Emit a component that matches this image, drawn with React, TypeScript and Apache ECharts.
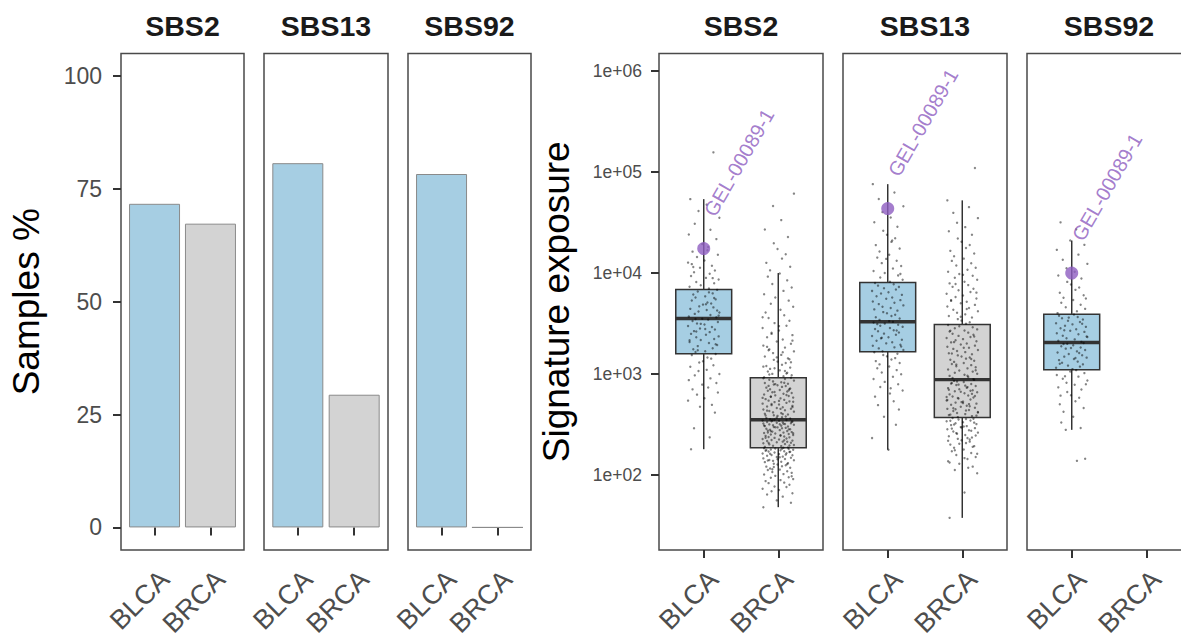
import React, { useEffect, useRef } from "react";
import * as echarts from "echarts";

// ---------- data ----------
const SIGNATURES = ["SBS2", "SBS13", "SBS92"];
const CANCER_TYPES = ["BLCA", "BRCA"];

// left: % of samples with the signature
const SAMPLES_PCT_BLCA = [71.7, 80.7, 78.3];
const SAMPLES_PCT_BRCA = [67.3, 29.4, 0];
const PCT_TICKS = [0, 25, 50, 75, 100];

// right: exposure box stats [lower whisker, Q1, median, Q3, upper whisker]
const BOX_SBS2_BLCA = [180, 1590, 3550, 6870, 54000];
const BOX_SBS2_BRCA = [48, 186, 353, 920, 10000];
const BOX_SBS13_BLCA = [178, 1660, 3300, 8070, 76000];
const BOX_SBS13_BRCA = [37.6, 370, 880, 3100, 52500];
const BOX_SBS92_BLCA = [280, 1100, 2050, 3900, 21000];
const EXPOSURE_TICKS = [100, 1000, 10000, 100000, 1000000];

const HIGHLIGHT_SAMPLE = "GEL-00089-1";
const HIGHLIGHT_EXPOSURE = [17500, 43500, 10000];

// individual sample exposures (jittered points)
const POINTS_SBS2_BLCA = [
  157000, 54000, 47600, 41200, 35300, 30800, 26900, 24100, 21700, 19400, 18100, 16300, 15200, 14400, 13300,
  12700, 11800, 11300, 10600, 10200, 9850, 9370, 8960, 8640, 8170, 7930, 7580, 7310, 7020, 6820, 6570, 6290,
  6130, 5880, 5720, 5490, 5340, 5120, 4990, 4870, 4680, 4570, 4420, 4310, 4170, 4070, 3940, 3850, 3720, 3640,
  3530, 3460, 3350, 3280, 3170, 3100, 2990, 2920, 2820, 2760, 2660, 2600, 2500, 2450, 2360, 2310, 2220, 2170,
  2080, 2030, 1940, 1890, 1800, 1760, 1680, 1650, 1580, 1540, 1460, 1420, 1340, 1300, 1220, 1180, 1100, 1070,
  1000, 970, 905, 870, 815, 785, 735, 705, 655, 625, 575, 545, 495, 475, 415, 290, 236, 180, 4910, 3790,
  2640, 5660, 3140, 2160, 6440, 4260, 1720, 8910, 11480, 2790, 3510, 1970, 12260, 16840,
];
const POINTS_SBS2_BRCA = [
  48, 53, 56, 61, 64, 66, 69, 71, 73, 76, 77, 80, 83, 84, 87, 89, 91, 94, 95, 98, 101, 102, 105, 107, 109,
  112, 113, 116, 118, 121, 122, 125, 127, 129, 131, 134, 135, 138, 140, 141, 144, 146, 148, 151, 152, 155,
  157, 158, 161, 163, 164, 167, 169, 171, 172, 174, 176, 178, 179, 181, 183, 184, 186, 97, 114, 128, 139,
  150, 162, 170, 177, 182, 159, 143, 120,
  187, 190, 193, 195, 198, 201, 203, 206, 209, 211, 214, 217, 219, 222, 225, 227, 230, 233, 236, 238, 241,
  244, 247, 249, 252, 255, 258, 261, 263, 266, 269, 272, 275, 278, 281, 284, 287, 290, 293, 296, 299, 302,
  305, 308, 311, 314, 317, 320, 323, 326, 329, 332, 335, 338, 341, 344, 347, 350, 352, 196, 208, 221, 234,
  246, 259, 271, 283, 297, 309, 322, 336, 348, 213, 264, 318,
  356, 362, 367, 373, 379, 385, 391, 397, 404, 410, 417, 424, 431, 438, 445, 453, 460, 468, 476, 484, 492,
  500, 509, 518, 527, 536, 545, 555, 564, 574, 584, 594, 605, 615, 626, 637, 648, 660, 671, 683, 695, 708,
  720, 733, 746, 760, 773, 787, 801, 816, 830, 845, 861, 876, 892, 908, 918, 370, 401, 434, 470, 505, 542,
  580, 621, 665, 712, 763, 818, 388, 452, 531, 599, 689, 794,
  930, 951, 974, 1003, 1028, 1061, 1087, 1124, 1158, 1203, 1236, 1284, 1327, 1382, 1428, 1493, 1547, 1612,
  1676, 1754, 1827, 1912, 1996, 2104, 2197, 2313, 2428, 2562, 2697, 2853, 3008, 3194, 3376, 3592, 3818, 4073,
  4338, 4642, 4968, 5334, 5728, 6173, 6658, 7204, 7796, 8472, 9218, 9897, 10640, 11530, 12620, 13910, 15380,
  17340, 19720, 22810, 27040, 33480, 46100, 61200, 991, 1072, 1183, 1308, 1462, 1643, 1858, 2141, 2497, 2983,
  3652, 1012, 1139, 1401, 1718,
];
const POINTS_SBS13_BLCA = [
  178, 232, 315, 378, 446, 492, 538, 597, 641, 688, 745, 793, 836, 894, 938, 996, 1037, 1094, 1142, 1189,
  1246, 1287, 1343, 1392, 1438, 1497, 1542, 1589, 1646, 724,
  1683, 1728, 1794, 1837, 1906, 1948, 2013, 2068, 2134, 2187, 2256, 2318, 2384, 2447, 2513, 2579, 2652, 2716,
  2793, 2858, 2934, 3008, 3082, 3157, 3234, 3288, 1872, 2291, 2704, 3121,
  3342, 3437, 3546, 3648, 3762, 3868, 3994, 4107, 4243, 4368, 4502, 4638, 4783, 4927, 5084, 5226, 5392, 5558,
  5734, 5897, 6083, 6268, 6462, 6657, 6864, 7068, 7293, 7506, 7742, 7984,
  8210, 8590, 9030, 9480, 10030, 10470, 11120, 11760, 12540, 13260, 14230, 15170, 16340, 17480, 18920, 20370,
  22140, 23960, 26230, 28760, 31840, 35460, 40120, 45870, 54210, 62870, 76000, 9810, 13820, 21030,
];
const POINTS_SBS13_BRCA = [
  37.6, 67, 104, 112, 121, 129, 137, 144, 151, 158, 165, 172, 179, 186, 193, 200, 207, 214, 221, 228, 235, 242,
  249, 256, 263, 270, 277, 284, 291, 298, 305, 312, 319, 326, 333, 340, 347, 354, 361, 367, 118, 133, 147, 162,
  176, 190, 204, 218, 232, 246, 260, 274, 288, 302, 316, 330, 344, 358, 225, 295,
  374, 383, 392, 401, 411, 421, 431, 441, 452, 463, 474, 485, 497, 509, 521, 533, 546, 559, 572, 586, 600, 614,
  629, 644, 659, 675, 691, 708, 725, 742, 760, 778, 797, 816, 835, 855, 875, 396, 436, 480, 527, 579, 636, 698,
  767, 842, 416, 458, 503, 553, 607, 667, 732, 804, 387, 447, 515, 593, 683, 785,
  890, 912, 935, 958, 982, 1006, 1031, 1057, 1083, 1110, 1138, 1166, 1195, 1225, 1256, 1287, 1319, 1352, 1386,
  1420, 1456, 1492, 1530, 1568, 1607, 1647, 1688, 1731, 1774, 1818, 1864, 1910, 1958, 2007, 2057, 2109, 2161,
  2215, 2271, 2328, 2386, 2445, 2506, 2569, 2633, 2699, 2767, 2836, 2907, 2979, 3054, 960, 1090, 1240, 1410,
  1600, 1820, 2070, 2350, 2680,
  3150, 3260, 3380, 3500, 3630, 3760, 3900, 4040, 4190, 4340, 4500, 4670, 4840, 5020, 5200, 5400, 5600, 5800,
  6000, 6250, 6500, 6750, 7000, 7300, 7600, 7900, 8200, 8600, 9000, 9400, 9800, 10300, 10800, 11300, 11900,
  12500, 13200, 13900, 14700, 15600, 16600, 17700, 19000, 20400, 22000, 24000, 26000, 28500, 31500, 35000,
  39500, 45000, 52500, 110000, 3700, 4400, 5300, 6400, 7800, 9600,
];
const POINTS_SBS92_BLCA = [
  138, 145, 280, 292, 331, 378, 423, 461, 502, 538, 583, 617, 664, 702, 738, 784, 819, 863, 897, 942, 978,
  1021, 1058, 1093, 611, 792, 951,
  1118, 1152, 1183, 1212, 1247, 1291, 1328, 1372, 1408, 1453, 1487, 1534, 1578, 1633, 1677, 1732, 1784, 1828,
  1883, 1927, 1984, 2031, 1262, 1441, 1618, 1812, 1993,
  2082, 2137, 2204, 2258, 2331, 2396, 2473, 2538, 2614, 2687, 2773, 2846, 2932, 3008, 3104, 3187, 3282, 3368,
  3473, 3566, 3674, 3778, 3882, 2352, 2718, 3153, 3621,
  4010, 4190, 4420, 4590, 4860, 5090, 5410, 5690, 6020, 6380, 6820, 7190, 7720, 8180, 8830, 9470, 10320, 11180,
  12340, 13570, 15230, 16980, 19040, 21000, 27100, 31800, 5610,
];

// ---------- layout / style constants ----------
const JITTER = [0.13, -0.18, 0.04, -0.07, 0.21, -0.12, 0.09, -0.2, 0.17, -0.02, 0.06, -0.15, 0.19, -0.09, 0.01,
  -0.21, 0.11, -0.05, 0.15, -0.13, 0.08, -0.17, 0.03, 0.2, -0.1, 0.14, -0.04, -0.19, 0.07, 0.18, -0.08, 0.12,
  -0.14, 0.02, -0.11, 0.16, -0.16, 0.05, 0.1, -0.01, -0.06];
const FONT = "'Liberation Sans', Arial, Helvetica, sans-serif";
const BLUE = "#a6cee3";
const GRAY = "#d3d3d3";
const PURPLE = "#8d5cc0";
const INK = "#333333";
const TICK_TEXT = "#4d4d4d";
const LEFT_PANELS = [[121, 123], [264, 124], [408, 123]];
const RIGHT_PANELS = [[659, 164], [843, 164], [1027, 164]];
const PANEL_TOP = 53.5;
const PANEL_H = 496.5;
const LOG_MIN = 18.07;
const LOG_MAX = 1.496e6;

function buildOption() {
  const panels = [...LEFT_PANELS, ...RIGHT_PANELS];
  const grid = panels.map(([l, w]) => ({
    left: l, top: PANEL_TOP, width: w, height: PANEL_H, containLabel: false, outerBoundsMode: "none",
    show: true, borderColor: "#4a4a4a", borderWidth: 1.5, backgroundColor: "transparent",
  }));

  const xAxis = panels.map(([, w], i) => {
    const offset = 10 / (w / 2.2);
    return {
      type: "value", gridIndex: i, min: 0.4, max: 2.6,
      splitLine: { show: false }, axisLine: { show: false },
      axisTick: { show: true, length: 8, customValues: [1, 2], lineStyle: { color: INK, width: 2 } },
      axisLabel: {
        show: true, customValues: [1 + offset, 2 + offset], rotate: 45, margin: 25,
        fontSize: 27, color: TICK_TEXT, fontFamily: FONT,
        formatter: (v: number) => CANCER_TYPES[Math.floor(v) - 1],
      },
    };
  });

  const yAxis: any[] = [];
  for (let i = 0; i < 3; i++) {
    yAxis.push({
      type: "value", gridIndex: i, min: -5, max: 105,
      splitLine: { show: false }, axisLine: { show: false },
      axisTick: { show: i === 0, length: 8, customValues: PCT_TICKS, lineStyle: { color: INK, width: 2 } },
      axisLabel: { show: i === 0, customValues: PCT_TICKS, margin: 19, fontSize: 23, color: TICK_TEXT, fontFamily: FONT },
      name: i === 0 ? "Samples %" : "", nameLocation: "middle", nameGap: 76,
      nameTextStyle: { fontSize: 37, color: "#000", fontFamily: FONT },
    });
  }
  for (let i = 0; i < 3; i++) {
    yAxis.push({
      type: "log", logBase: 10, gridIndex: 3 + i, min: LOG_MIN, max: LOG_MAX,
      splitLine: { show: false }, axisLine: { show: false },
      axisTick: { show: i === 0, length: 8, customValues: EXPOSURE_TICKS, lineStyle: { color: INK, width: 2 } },
      axisLabel: {
        show: i === 0, customValues: EXPOSURE_TICKS, margin: 17, fontSize: 17.5, color: TICK_TEXT, fontFamily: FONT,
        formatter: (v: number) => "1e+" + String(Math.round(Math.log10(v))).padStart(2, "0"),
      },
      name: i === 0 ? "Signature exposure" : "", nameLocation: "middle", nameGap: 84,
      nameTextStyle: { fontSize: 37, color: "#000", fontFamily: FONT },
    });
  }

  const series: any[] = [];
  for (let i = 0; i < 3; i++) {
    series.push({
      type: "bar", xAxisIndex: i, yAxisIndex: i, barWidth: 51,
      itemStyle: { borderColor: "#8a8a8a", borderWidth: 1 },
      data: [
        { value: [1, SAMPLES_PCT_BLCA[i]], itemStyle: { color: BLUE } },
        { value: [2, SAMPLES_PCT_BRCA[i]], itemStyle: { color: GRAY } },
      ],
    });
  }

  const boxes = [
    [[1, ...BOX_SBS2_BLCA, 0], [2, ...BOX_SBS2_BRCA, 1]],
    [[1, ...BOX_SBS13_BLCA, 0], [2, ...BOX_SBS13_BRCA, 1]],
    [[1, ...BOX_SBS92_BLCA, 0]],
  ];
  boxes.forEach((data, i) => {
    series.push({
      type: "custom", xAxisIndex: 3 + i, yAxisIndex: 3 + i, z: 2, data,
      renderItem: (_p: any, api: any) => {
        const x = api.value(0);
        const lo = api.coord([x, api.value(1)]);
        const q1 = api.coord([x, api.value(2)]);
        const md = api.coord([x, api.value(3)]);
        const q3 = api.coord([x, api.value(4)]);
        const hi = api.coord([x, api.value(5)]);
        const left = api.coord([x - 0.375, api.value(3)])[0];
        const right = api.coord([x + 0.375, api.value(3)])[0];
        const c = lo[0];
        const fill = api.value(6) === 0 ? BLUE : GRAY;
        const ls = { stroke: INK, lineWidth: 1.5 };
        return {
          type: "group",
          children: [
            { type: "line", shape: { x1: c, y1: q3[1], x2: c, y2: hi[1] }, style: ls },
            { type: "line", shape: { x1: c, y1: q1[1], x2: c, y2: lo[1] }, style: ls },
            { type: "rect", shape: { x: left, y: q3[1], width: right - left, height: q1[1] - q3[1] }, style: { fill, stroke: INK, lineWidth: 1.5 } },
            { type: "line", shape: { x1: left, y1: md[1], x2: right, y2: md[1] }, style: { stroke: INK, lineWidth: 3.4 } },
          ],
        };
      },
    });
  });

  const pointGroups = [
    [3, 1, POINTS_SBS2_BLCA], [3, 2, POINTS_SBS2_BRCA],
    [4, 1, POINTS_SBS13_BLCA], [4, 2, POINTS_SBS13_BRCA],
    [5, 1, POINTS_SBS92_BLCA],
  ] as [number, number, number[]][];
  pointGroups.forEach(([ax, x, vals], g) => {
    series.push({
      type: "scatter", xAxisIndex: ax, yAxisIndex: ax, z: 3, symbol: "circle", symbolSize: 2.4,
      itemStyle: { color: "rgba(0,0,0,0.6)" },
      data: vals.map((v, k) => [x + JITTER[(k + g * 7) % JITTER.length], v]),
    });
  });

  for (let i = 0; i < 3; i++) {
    series.push({
      type: "scatter", xAxisIndex: 3 + i, yAxisIndex: 3 + i, z: 4, symbol: "circle", symbolSize: 13,
      itemStyle: { color: PURPLE },
      label: {
        show: true, formatter: "{b}", position: [20.5, -22.5], rotate: 60, align: "left", verticalAlign: "bottom",
        fontSize: 20, color: PURPLE, fontFamily: FONT,
      },
      data: [{ name: HIGHLIGHT_SAMPLE, value: [1, HIGHLIGHT_EXPOSURE[i]] }],
    });
  }

  const title = panels.map(([l, w], i) => ({
    text: SIGNATURES[i % 3], left: l + w / 2, top: 11, textAlign: "center", padding: 0,
    textStyle: { fontSize: 28.5, fontWeight: "bold", color: "#1a1a1a", fontFamily: FONT },
  }));

  return { animation: false, backgroundColor: "#ffffff", title, grid, xAxis, yAxis, series };
}

export default function App() {
  const ref = useRef<HTMLDivElement>(null);
  useEffect(() => {
    if (!ref.current) return;
    const chart = echarts.init(ref.current, null, { renderer: "svg" });
    chart.setOption(buildOption() as any);
    return () => chart.dispose();
  }, []);
  return (
    <div
      ref={ref}
      style={{ position: "absolute", left: 0, top: 0, width: 1181, height: 641, overflow: "hidden" }}
    />
  );
}
